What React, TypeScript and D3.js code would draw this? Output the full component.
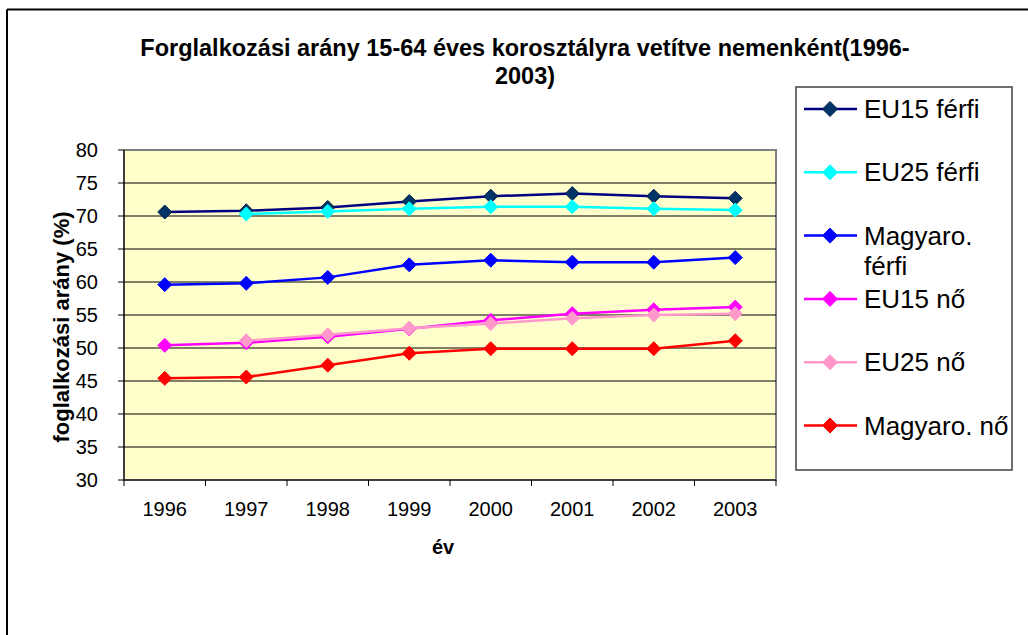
import React from "react";
import * as d3 from "d3";

const years = ["1996", "1997", "1998", "1999", "2000", "2001", "2002", "2003"];
const eu15Ferfi = [70.6, 70.8, 71.3, 72.2, 73.0, 73.4, 73.0, 72.7];
const eu25Ferfi = [null, 70.3, 70.7, 71.1, 71.4, 71.4, 71.1, 70.9];
const magyarFerfi = [59.6, 59.8, 60.7, 62.6, 63.3, 63.0, 63.0, 63.7];
const eu15No = [50.4, 50.8, 51.7, 52.9, 54.2, 55.2, 55.8, 56.2];
const eu25No = [null, 51.1, 52.0, 53.0, 53.7, 54.5, 55.0, 55.2];
const magyarNo = [45.4, 45.6, 47.4, 49.2, 49.9, 49.9, 49.9, 51.1];
const yTicks = [30, 35, 40, 45, 50, 55, 60, 65, 70, 75, 80];

const series = [
  { name: ["EU15 férfi"], values: eu15Ferfi, line: "#000080", fill: "#003366", stroke: "#001f4d" },
  { name: ["EU25 férfi"], values: eu25Ferfi, line: "#00ffff", fill: "#00ffff", stroke: "#00ffff" },
  { name: ["Magyaro.", "férfi"], values: magyarFerfi, line: "#0000ff", fill: "#0000ff", stroke: "#0000ff" },
  { name: ["EU15 nő"], values: eu15No, line: "#ff00ff", fill: "#ff00ff", stroke: "#ff00ff" },
  { name: ["EU25 nő"], values: eu25No, line: "#ff99cc", fill: "#ff99cc", stroke: "#ff99cc" },
  { name: ["Magyaro. nő"], values: magyarNo, line: "#ff0000", fill: "#ff0000", stroke: "#ff0000" },
];

const FONT = "'Liberation Sans', Arial, sans-serif";
const plot = { left: 124, right: 776, top: 150, bottom: 480 };
const legend = { x: 796, y: 87, w: 216, h: 383 };

const diamond = (cx: number, cy: number, r: number) =>
  `M${cx},${cy - r}L${cx + r},${cy}L${cx},${cy + r}L${cx - r},${cy}Z`;

export default function App() {
  const x = d3.scaleBand().domain(years).range([plot.left, plot.right]);
  const y = d3.scaleLinear().domain([30, 80]).range([plot.bottom, plot.top]);
  const cx = (yr: string) => (x(yr) ?? 0) + x.bandwidth() / 2;

  const line = d3
    .line<[string, number | null]>()
    .defined((d) => d[1] != null)
    .x((d) => cx(d[0]))
    .y((d) => y(d[1] as number));

  const entryStep = 63.3;

  return (
    <svg
      width={1028}
      height={635}
      style={{ position: "absolute", left: 0, top: 0, background: "white" }}
      fontFamily={FONT}
    >
      {/* frame */}
      <line x1={7} y1={9.5} x2={1028} y2={9.5} stroke="#000" strokeWidth={2} />
      <line x1={7} y1={9.5} x2={7} y2={635} stroke="#000" strokeWidth={2} />

      {/* title */}
      <text x={525} y={56} textAnchor="middle" fontSize={23.5} fontWeight="bold">
        Forglalkozási arány 15-64 éves korosztályra vetítve nemenként(1996-
      </text>
      <text x={525} y={84} textAnchor="middle" fontSize={23.5} fontWeight="bold">
        2003)
      </text>

      {/* plot area */}
      <rect
        x={plot.left}
        y={plot.top}
        width={plot.right - plot.left}
        height={plot.bottom - plot.top}
        fill="#ffffcc"
        stroke="#808080"
        strokeWidth={2}
      />
      {yTicks.slice(1, -1).map((t) => (
        <line key={t} x1={plot.left} x2={plot.right} y1={y(t)} y2={y(t)} stroke="#000" strokeWidth={1} />
      ))}

      {/* y axis */}
      <line x1={plot.left} x2={plot.left} y1={plot.top} y2={plot.bottom} stroke="#000" strokeWidth={1} />
      {yTicks.map((t) => (
        <g key={t}>
          <line x1={plot.left - 6} x2={plot.left} y1={y(t)} y2={y(t)} stroke="#000" />
          <text x={plot.left - 26} y={y(t)} dy="0.35em" textAnchor="end" fontSize={20}>
            {t}
          </text>
        </g>
      ))}
      <text
        transform={`translate(61,${(plot.top + plot.bottom) / 2 + 12}) rotate(-90)`}
        dy="0.35em"
        textAnchor="middle"
        fontSize={22}
        fontWeight="bold"
      >
        foglalkozási arány (%)
      </text>

      {/* x axis */}
      <line x1={plot.left} x2={plot.right} y1={plot.bottom} y2={plot.bottom} stroke="#000" />
      {years.map((yr) => (
        <line key={yr} x1={x(yr)} x2={x(yr)} y1={plot.bottom} y2={plot.bottom + 6} stroke="#000" />
      ))}
      <line x1={plot.right} x2={plot.right} y1={plot.bottom} y2={plot.bottom + 6} stroke="#000" />
      {years.map((yr) => (
        <text key={yr} x={cx(yr)} y={509} dy="0.35em" textAnchor="middle" fontSize={20}>
          {yr}
        </text>
      ))}
      <text x={443} y={547} dy="0.35em" textAnchor="middle" fontSize={20} fontWeight="bold">
        év
      </text>

      {/* series */}
      {series.map((s) => {
        const pts = years.map((yr, i) => [yr, s.values[i]] as [string, number | null]);
        return (
          <g key={s.name.join(" ")}>
            <path d={line(pts) ?? ""} fill="none" stroke={s.line} strokeWidth={2.5} />
            {pts
              .filter((p) => p[1] != null)
              .map((p) => (
                <path
                  key={p[0]}
                  d={diamond(cx(p[0]), y(p[1] as number), 7)}
                  fill={s.fill}
                  stroke={s.stroke}
                  strokeWidth={1}
                />
              ))}
          </g>
        );
      })}

      {/* legend */}
      <rect x={legend.x} y={legend.y} width={legend.w} height={legend.h} fill="white" stroke="#404040" strokeWidth={1.5} />
      {series.map((s, i) => {
        const ey = 109 + i * entryStep;
        return (
          <g key={s.name.join(" ")}>
            <line x1={804} x2={857} y1={ey} y2={ey} stroke={s.line} strokeWidth={2.5} />
            <path d={diamond(830, ey, 7.5)} fill={s.fill} stroke={s.stroke} strokeWidth={1} />
            {s.name.map((n, j) => (
              <text key={n} x={864} y={ey + j * 30} dy="0.35em" fontSize={26}>
                {n}
              </text>
            ))}
          </g>
        );
      })}
    </svg>
  );
}
